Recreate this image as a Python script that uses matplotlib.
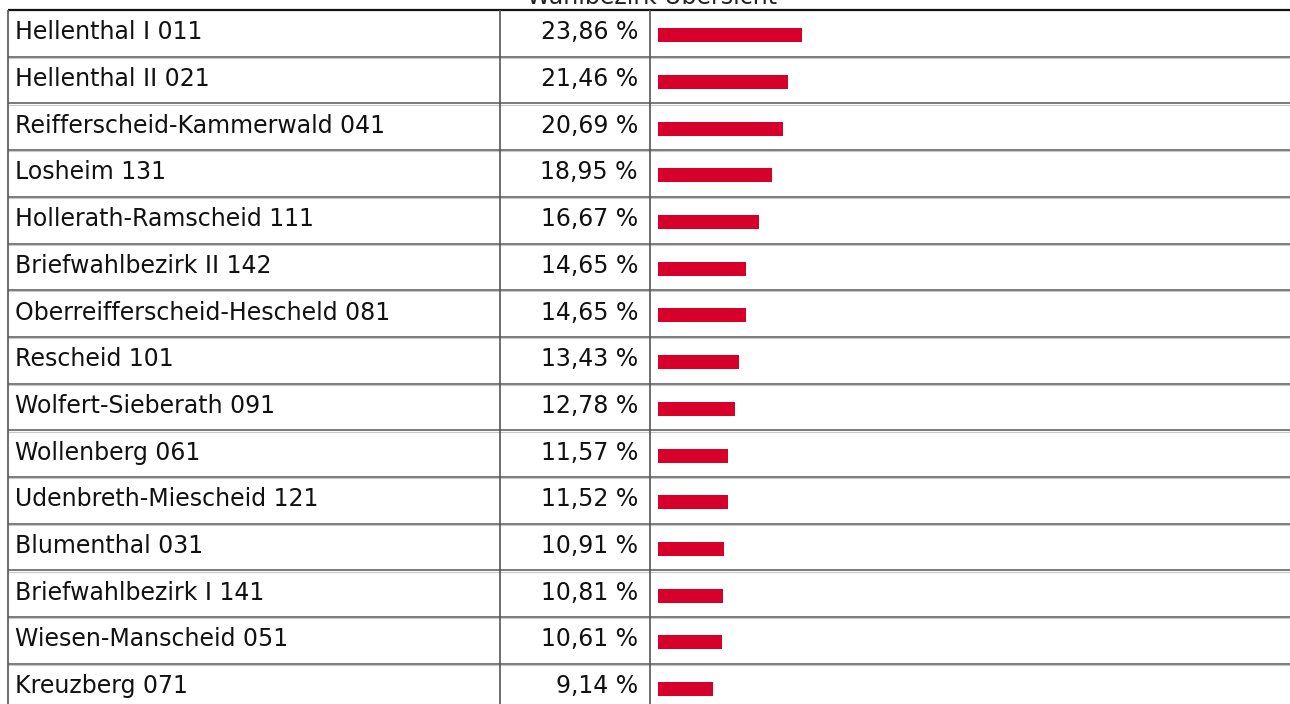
import matplotlib
matplotlib.use("Agg")
import matplotlib.pyplot as plt

# Wahlbezirke and their shares (in percent)
districts = [
    "Hellenthal I 011",
    "Hellenthal II 021",
    "Reifferscheid-Kammerwald 041",
    "Losheim 131",
    "Hollerath-Ramscheid 111",
    "Briefwahlbezirk II 142",
    "Oberreifferscheid-Hescheld 081",
    "Rescheid 101",
    "Wolfert-Sieberath 091",
    "Wollenberg 061",
    "Udenbreth-Miescheid 121",
    "Blumenthal 031",
    "Briefwahlbezirk I 141",
    "Wiesen-Manscheid 051",
    "Kreuzberg 071",
]
shares = [23.86, 21.46, 20.69, 18.95, 16.67, 14.65, 14.65, 13.43,
          12.78, 11.57, 11.52, 10.91, 10.81, 10.61, 9.14]
title = "Wahlbezirk Übersicht"

plt.rcParams["font.family"] = ["DejaVu Sans"]

W, H = 1290, 704
fig = plt.figure(figsize=(W / 100, H / 100), dpi=100)

# Table frame in pixel units
ax = fig.add_axes([0, 0, 1, 1])
ax.set_xlim(0, W)
ax.set_ylim(H, 0)
ax.axis("off")

top = 10.0
row_h = 46.7
n = len(districts)
x_left, x_col1, x_col2 = 7.5, 500, 649.5
bottom = top + n * row_h
fs = 17

ax.text(652, 4.5, title, ha="center", va="baseline", fontsize=fs,
        color="#222222")

# horizontal rules
ax.plot([x_left, W], [top, top], color="#111111", lw=1.6, solid_capstyle="butt")
for k in range(1, n + 1):
    y = top + k * row_h
    ax.plot([x_left, W], [y, y], color="#7a7a7a", lw=1.4, solid_capstyle="butt")
    ax.plot([x_left, W], [y + 1.2, y + 1.2], color="#c8c8c8", lw=0.8,
            solid_capstyle="butt")
# vertical rules
for x in (x_left, x_col1, x_col2):
    ax.plot([x, x], [top, bottom], color="#555555", lw=1.2, solid_capstyle="butt")

for i, (name, v) in enumerate(zip(districts, shares)):
    base = top + i * row_h + 29.3
    ax.text(15, base, name, ha="left", va="baseline", fontsize=fs,
            color="#111111")
    ax.text(638, base, f"{v:.2f}".replace(".", ",") + " %", ha="right",
            va="baseline", fontsize=fs, color="#111111")

# Bar column: 0..100 % on its own axes
bar_x0, bar_w = 658, 604
axb = fig.add_axes([bar_x0 / W, (H - bottom) / H, bar_w / W, (bottom - top) / H])
axb.set_xlim(0, 100)
axb.set_ylim(n, 0)
axb.axis("off")
axb.patch.set_alpha(0)
axb.barh([i + 25.2 / row_h for i in range(n)], shares, height=14 / row_h,
         left=0, color="#d7002b", linewidth=0)

fig.savefig("out.png", dpi=100)
